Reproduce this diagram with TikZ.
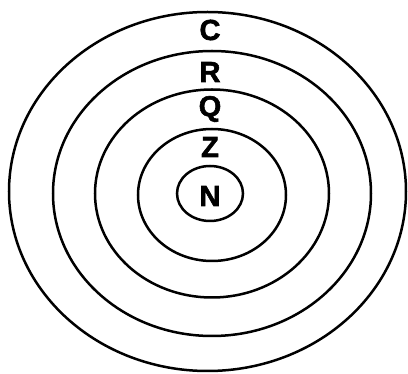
\documentclass[tikz,border=0pt]{standalone}
\usepackage{fontspec}
\setmainfont{Liberation Sans}
\newfontfamily\heavyfont[UprightFont={* Bold},UprightFeatures={FakeBold=2}]{Liberation Sans}
\begin{document}
\begin{tikzpicture}[x=1pt,y=-1pt,
  ring/.style={draw=black,line width=2.5pt},
  lbl/.style={font=\heavyfont\fontsize{29}{29}\selectfont,inner sep=0pt}]
\useasboundingbox (0,0) rectangle (408,374);
\draw[ring] (207.5,191.5) ellipse [x radius=198.5,y radius=179.5];
\draw[ring] (212,193.5) ellipse [x radius=159,y radius=142.5];
\draw[ring] (212,193.5) ellipse [x radius=117,y radius=104];
\draw[ring] (212,195) ellipse [x radius=74,y radius=66];
\draw[ring] (210,193.5) ellipse [x radius=33,y radius=27.5];
\node[lbl] (c) at (210,30) {C};
\node[lbl] (r) at (210,72) {R};
\node[lbl] (q) at (210,109) {Q};
\node[lbl] (z) at (210,147) {Z};
\node[lbl] (n) at (210,196) {N};
\end{tikzpicture}
\end{document}
